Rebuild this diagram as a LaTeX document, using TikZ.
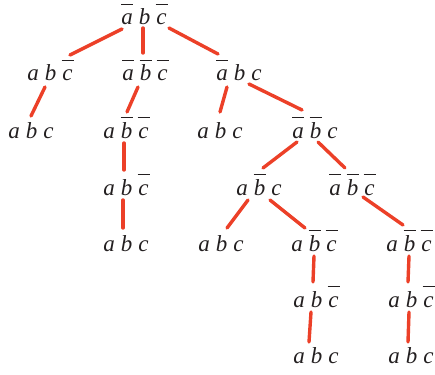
\documentclass[tikz,border=0pt]{standalone}
\usepackage{fontspec}
\setmainfont{Liberation Serif}
\definecolor{ink}{RGB}{35,31,32}
\definecolor{edgered}{RGB}{236,64,40}
\newcommand\ov[1]{\setbox0\hbox{#1}\rlap{\hbox to\wd0{\hss\rule[20.3pt]{12pt}{1.1pt}\hss}}\box0}
\newcommand\gap{\hspace{6pt}}
\begin{document}
\begin{tikzpicture}[x=1pt,y=-1pt,
  lab/.style={inner sep=0pt,anchor=base,text=ink,font=\fontsize{23}{25}\selectfont\itshape},
  edge/.style={draw=edgered,line width=3.4pt,line cap=round}]
\useasboundingbox (0,0) rectangle (435,374);
\node[lab] (r) at (144,25) {\ov{a}\gap b\gap\ov{c}};
\node[lab] (A) at (50,81) {a\gap b\gap\ov{c}};
\node[lab] (B) at (145,81) {\ov{a}\gap\ov{b}\gap\ov{c}};
\node[lab] (C) at (239,81) {\ov{a}\gap b\gap c};
\node[lab] (D) at (31,138) {a\gap b\gap c};
\node[lab] (E) at (126,138) {a\gap\ov{b}\gap\ov{c}};
\node[lab] (F) at (220,138) {a\gap b\gap c};
\node[lab] (G) at (315,138) {\ov{a}\gap\ov{b}\gap c};
\node[lab] (H) at (126,195) {a\gap b\gap\ov{c}};
\node[lab] (I) at (259,195) {a\gap\ov{b}\gap c};
\node[lab] (J) at (352,195) {\ov{a}\gap\ov{b}\gap\ov{c}};
\node[lab] (K) at (126,251) {a\gap b\gap c};
\node[lab] (L) at (221,251) {a\gap b\gap c};
\node[lab] (M) at (314,251) {a\gap\ov{b}\gap\ov{c}};
\node[lab] (N) at (409,251) {a\gap\ov{b}\gap\ov{c}};
\node[lab] (O) at (316,307) {a\gap b\gap\ov{c}};
\node[lab] (P) at (411,307) {a\gap b\gap\ov{c}};
\node[lab] (Q) at (316,363) {a\gap b\gap c};
\node[lab] (R) at (411,363) {a\gap b\gap c};
\newcommand\edge[4]{\draw[edge] ([shift={(#2)}]#1.base) -- ([shift={(#4)}]#3.base);}
\edge{r}{-22,4}{A}{20,-26}
\edge{r}{-1,3}{B}{-2,-28}
\edge{r}{25,3}{C}{-21,-27}
\edge{A}{-5,6}{D}{0,-22}
\edge{B}{-7,6}{E}{1,-26}
\edge{E}{-2,5}{H}{-2,-25}
\edge{H}{-3,5}{K}{-3,-23}
\edge{C}{-12,6}{F}{0,-26}
\edge{C}{10,3}{G}{-13,-28}
\edge{G}{-18,4}{I}{4,-27}
\edge{G}{3,4}{J}{-7,-27}
\edge{I}{-11,5}{L}{6,-23}
\edge{I}{11,5}{M}{-9,-23}
\edge{J}{11,2}{N}{-6,-26}
\edge{M}{0,5}{O}{-3,-25}
\edge{N}{0,5}{P}{-3,-25}
\edge{O}{-5,5}{Q}{-7,-21}
\edge{P}{-2,5}{R}{-3,-21}
\end{tikzpicture}
\end{document}
